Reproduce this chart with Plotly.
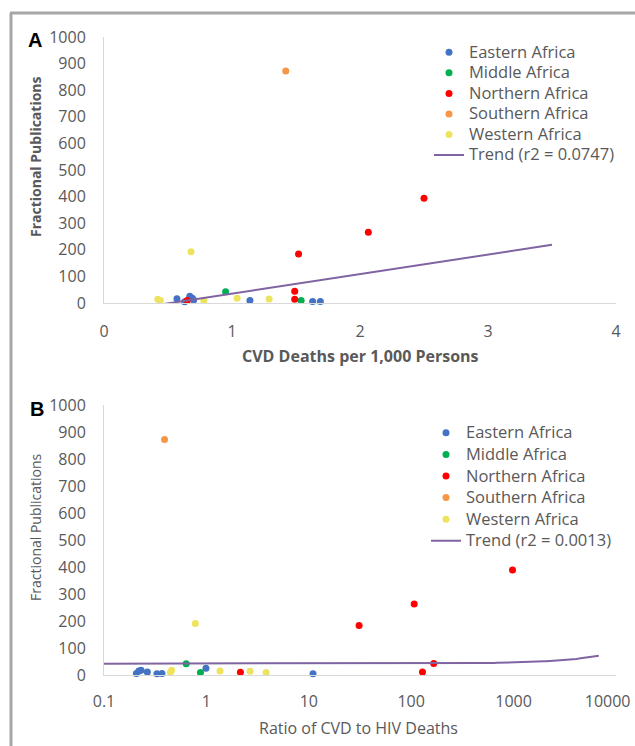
import numpy as np
import plotly.graph_objects as go

W, H = 635, 746

regions = ["Eastern Africa", "Middle Africa", "Northern Africa", "Southern Africa", "Western Africa"]
colors = ["#4472C4", "#00B050", "#FF0000", "#F79646", "#EDE35E"]

# ---- Panel A: CVD deaths per 1,000 persons vs fractional publications
a_east_x = [0.57, 0.63, 0.67, 0.69, 0.70, 1.14, 1.63, 1.69]
a_east_y = [16, 5, 25, 18, 11, 9, 6, 6]
a_mid_x = [0.95, 1.54]
a_mid_y = [42, 9]
a_north_x = [0.65, 1.49, 1.49, 1.52, 2.065, 2.5]
a_north_y = [9, 14, 44, 184, 266, 394]
a_south_x = [1.42]
a_south_y = [872]
a_west_x = [0.42, 0.44, 0.68, 0.78, 1.04, 1.29]
a_west_y = [14, 9, 193, 9, 18, 15]

# ---- Panel B: ratio of CVD to HIV deaths vs fractional publications
b_east_x = [0.207, 0.219, 0.23, 0.265, 0.329, 0.368, 0.99, 11]
b_east_y = [6, 15, 18, 11, 5, 6, 25, 5]
b_mid_x = [0.635, 0.875]
b_mid_y = [42, 9]
b_north_x = [2.15, 31, 107, 129, 166, 977]
b_north_y = [10, 183, 263, 11, 43, 389]
b_south_x = [0.39]
b_south_y = [872]
b_west_x = [0.445, 0.457, 0.78, 1.36, 2.67, 3.83]
b_west_y = [10, 18, 191, 15, 14, 9]

# Linear trend lines (as drawn in the figure)
trend_a_label = "Trend (r2 = 0.0747)"
trend_a_slope, trend_a_intercept = 73.4, -38.2
trend_a_range = [0.42, 3.5]
trend_b_label = "Trend (r2 = 0.0013)"
trend_b_slope, trend_b_intercept = 0.0043, 42.0
trend_b_range = [0.1, 6800]

x_ticks_a = [0, 1, 2, 3, 4]
x_ticks_b = [0.1, 1, 10, 100, 1000, 10000]
# last label padded so it stays inside the picture, as in the original
x_ticktext_b = ["0.1", "1", "10", "100", "1000", "10000" + "\u00a0" * 4]
y_ticks = list(range(0, 1001, 100))

FONT = "Open Sans"
GREY = "#595959"


def leg(txt):
    return '<span style="font-size:16.5px">' + txt + '</span>'


panel_a = [(a_east_x, a_east_y), (a_mid_x, a_mid_y), (a_north_x, a_north_y),
           (a_south_x, a_south_y), (a_west_x, a_west_y)]
panel_b = [(b_east_x, b_east_y), (b_mid_x, b_mid_y), (b_north_x, b_north_y),
           (b_south_x, b_south_y), (b_west_x, b_west_y)]

fig = go.Figure()
for name, col, (xs, ys) in zip(regions, colors, panel_a):
    fig.add_trace(go.Scatter(x=xs, y=ys, mode="markers", name=leg(name),
                             marker=dict(size=7, color=col), cliponaxis=False,
                             xaxis="x", yaxis="y", legend="legend"))
ta = np.linspace(trend_a_range[0], trend_a_range[1], 50)
fig.add_trace(go.Scatter(x=ta, y=trend_a_slope * ta + trend_a_intercept, mode="lines",
                         name=leg(trend_a_label), line=dict(color="#8064A2", width=2),
                         xaxis="x", yaxis="y", legend="legend"))

for name, col, (xs, ys) in zip(regions, colors, panel_b):
    fig.add_trace(go.Scatter(x=xs, y=ys, mode="markers", name=leg(name),
                             marker=dict(size=7, color=col), cliponaxis=False,
                             xaxis="x2", yaxis="y2", legend="legend2"))
tb = np.logspace(np.log10(trend_b_range[0]), np.log10(trend_b_range[1]), 200)
fig.add_trace(go.Scatter(x=tb, y=trend_b_slope * tb + trend_b_intercept, mode="lines",
                         name=leg(trend_b_label), line=dict(color="#8064A2", width=2),
                         xaxis="x2", yaxis="y2", legend="legend2"))

xdom = [104 / W, 616 / W]
ydom_a = [1 - 303 / H, 1 - 37 / H]
ydom_b = [1 - 675 / H, 1 - 405 / H]

axis_common = dict(showgrid=False, zeroline=False, showline=True, linecolor="#D9D9D9",
                   linewidth=1, ticks="", ticklabeloverflow="allow",
                   tickfont=dict(family=FONT, size=16, color=GREY))

fig.update_layout(
    width=W, height=H, margin=dict(l=0, r=0, t=0, b=0),
    paper_bgcolor="white", plot_bgcolor="white",
    font=dict(family=FONT, color=GREY),
    xaxis=dict(domain=xdom, range=[0, 4], tickvals=x_ticks_a, anchor="y",
               ticklabelstandoff=14, automargin=False, **axis_common),
    yaxis=dict(domain=ydom_a, range=[0, 1000], tickvals=y_ticks, anchor="x",
               ticklabelstandoff=14, automargin=False, **axis_common),
    xaxis2=dict(domain=xdom, type="log", range=[-1, 4.0005], tickvals=x_ticks_b,
                ticktext=x_ticktext_b, anchor="y2", ticklabelstandoff=12,
                automargin=False, **axis_common),
    yaxis2=dict(domain=ydom_b, range=[0, 1000], tickvals=y_ticks, anchor="x2",
                ticklabelstandoff=14, automargin=False, **axis_common),
    legend=dict(x=429 / W, y=1 - 37 / H, xanchor="left", yanchor="top",
                bgcolor="rgba(0,0,0,0)", font=dict(family=FONT, size=13.5, color=GREY),
                itemclick=False),
    legend2=dict(x=426 / W, y=1 - 417 / H, xanchor="left", yanchor="top",
                 bgcolor="rgba(0,0,0,0)", font=dict(family=FONT, size=14.3, color=GREY),
                 itemclick=False),
    showlegend=True,
)

# frame lines (top and left border of the figure panel)
fig.add_shape(type="line", xref="paper", yref="paper", x0=10 / W, x1=1, y0=1 - 13 / H,
              y1=1 - 13 / H, line=dict(color="#A6A6A6", width=3))
fig.add_shape(type="line", xref="paper", yref="paper", x0=11 / W, x1=11 / W, y0=0,
              y1=1 - 13 / H, line=dict(color="#A6A6A6", width=3))

ann = [
    dict(text="<b>A</b>", x=35 / W, y=1 - 40 / H, font=dict(family="Liberation Sans", size=20, color="black")),
    dict(text="<b>B</b>", x=37 / W, y=1 - 409 / H, font=dict(family="Liberation Sans", size=20, color="black")),
    dict(text="<b>CVD Deaths per 1,000 Persons</b>", x=360 / W, y=1 - 356 / H,
         font=dict(family=FONT, size=16, color=GREY)),
    dict(text="<b>Fractional Publications</b>", x=35 / W, y=1 - 157 / H, textangle=-90,
         font=dict(family=FONT, size=14, color=GREY)),
    dict(text="Ratio of CVD to HIV Deaths", x=359 / W, y=1 - 728 / H,
         font=dict(family=FONT, size=16, color=GREY)),
    dict(text="Fractional Publications", x=35 / W, y=1 - 527 / H, textangle=-90,
         font=dict(family=FONT, size=14, color=GREY)),
]
for a in ann:
    fig.add_annotation(xref="paper", yref="paper", showarrow=False,
                       xanchor="center", yanchor="middle", **a)

fig.write_html("out.html", config={"displayModeBar": False},
               post_script="document.body.style.margin='0';")
